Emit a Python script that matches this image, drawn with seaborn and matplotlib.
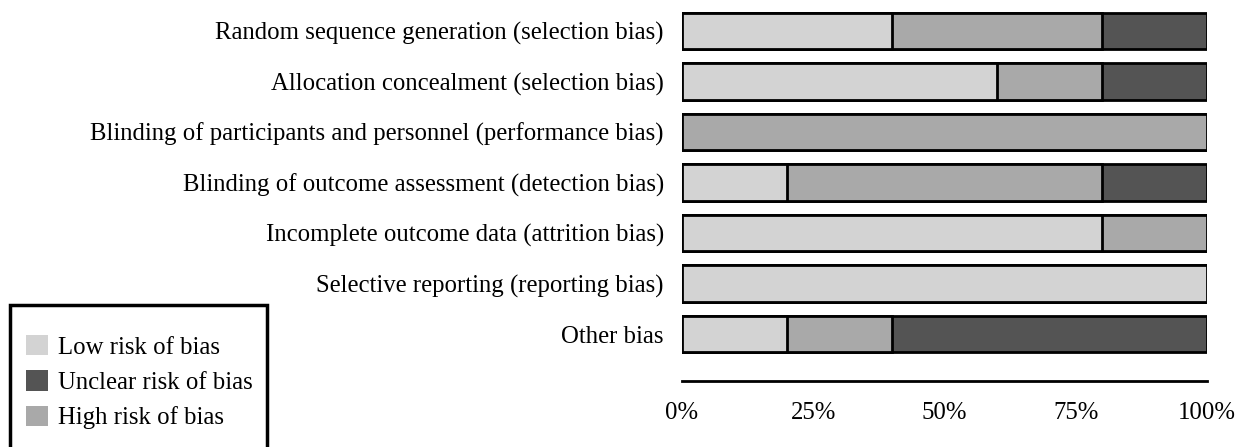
import matplotlib
matplotlib.use("Agg")
import matplotlib.pyplot as plt
import seaborn as sns
import pandas as pd
import numpy as np
from matplotlib.patches import Patch, Rectangle

domains = [
    "Random sequence generation (selection bias)",
    "Allocation concealment (selection bias)",
    "Blinding of participants and personnel (performance bias)",
    "Blinding of outcome assessment (detection bias)",
    "Incomplete outcome data (attrition bias)",
    "Selective reporting (reporting bias)",
    "Other bias",
]
low = [40, 60, 0, 20, 80, 100, 20]
high = [40, 20, 100, 60, 20, 0, 20]
unclear = [20, 20, 0, 20, 0, 0, 60]
xticks = [0, 25, 50, 75, 100]
xtick_labels = ["0%", "25%", "50%", "75%", "100%"]

c_low, c_high, c_unclear = "#d3d3d3", "#a9a9a9", "#545454"
FS = 17.8

sns.set_theme(style="white")
plt.rcParams["font.family"] = ["Liberation Serif", "DejaVu Serif"]
plt.rcParams["text.color"] = "black"

df = pd.DataFrame({"domain": domains, "low": low, "high": high, "unclear": unclear})
df["c1"] = df["low"]
df["c2"] = df["low"] + df["high"]
df["c3"] = df["c2"] + df["unclear"]

fig = plt.figure(figsize=(12.38, 4.47), dpi=100)
ax = fig.add_axes([682 / 1238, 1 - 381 / 447, (1207 - 682) / 1238, (381 - 5.75) / 447])

kw = dict(orient="h", width=0.72, edgecolor="black", linewidth=2, ax=ax)
sns.barplot(data=df, x="c3", y="domain", color=c_unclear, **kw)
sns.barplot(data=df, x="c2", y="domain", color=c_high, **kw)
sns.barplot(data=df[df["c1"] > 0], x="c1", y="domain", color=c_low, order=domains, **kw)

ax.set_xlim(0, 100)
ax.set_ylim(6.93, -0.5)
ax.set_xlabel("")
ax.set_ylabel("")
ax.set_xticks(xticks)
ax.set_xticklabels(xtick_labels)
ax.tick_params(axis="x", length=0, pad=15, labelsize=FS, labelcolor="black")
ax.tick_params(axis="y", length=0, pad=13, labelsize=FS, labelcolor="black")
for s in ["top", "right", "left"]:
    ax.spines[s].set_visible(False)
ax.spines["bottom"].set_color("black")
ax.spines["bottom"].set_linewidth(2)

# legend box
fig.patches.append(Rectangle((10 / 1238, -0.1), (267 - 10) / 1238, (1 - 305 / 447) + 0.1,
                             transform=fig.transFigure, fill=False, edgecolor="black",
                             linewidth=2.5, zorder=5))
handles = [Patch(facecolor=c_low, edgecolor="none"),
           Patch(facecolor=c_unclear, edgecolor="none"),
           Patch(facecolor=c_high, edgecolor="none")]
fig.legend(handles, ["Low risk of bias", "Unclear risk of bias", "High risk of bias"],
           loc="upper left", bbox_to_anchor=(26 / 1238, 1 - 335 / 447), frameon=False,
           fontsize=FS, handlelength=0.89, handleheight=0.89, handletextpad=0.4,
           labelspacing=0.47, borderpad=0, borderaxespad=0, labelcolor="black")

fig.savefig("out.png", dpi=100)
